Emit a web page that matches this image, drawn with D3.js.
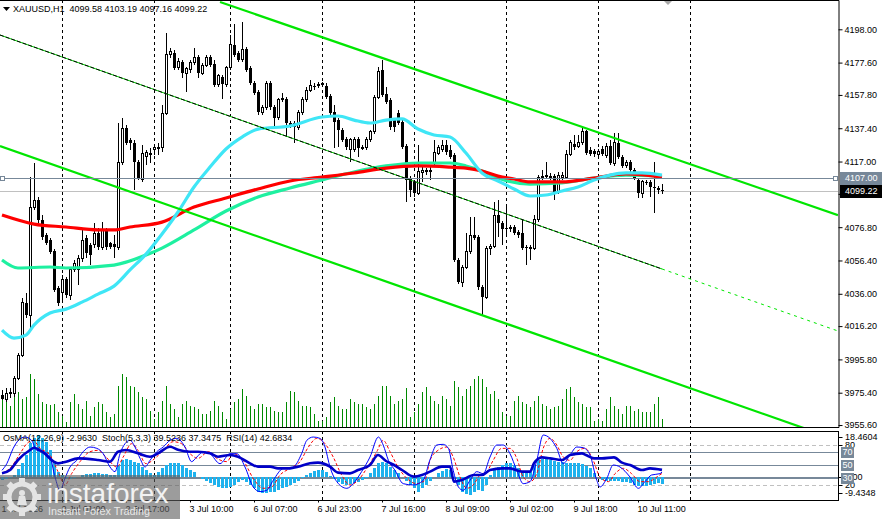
<!DOCTYPE html>
<html><head><meta charset="utf-8">
<script src="https://cdn.jsdelivr.net/npm/d3@7"></script>
<style>
html,body{margin:0;padding:0;background:#fff;}
svg{display:block;font-family:"Liberation Sans",Arial,sans-serif;}
</style></head><body>
<svg id="c" width="882" height="519"></svg>
<script>
// ---------------- DATA ----------------
const symbolTitle = "XAUUSD,H1";
const lastOHLC = ["4099.58","4103.19","4097.16","4099.22"];
const openP = [
3974.0,3971.5,3975.8,3975.2,3984.4,3998.5,4030.4,4023.0,4089.1,4093.4,
4081.2,4072.0,4068.9,4062.2,4039.5,4036.5,4045.0,4035.2,4050.6,4050.6,
4057.9,4070.2,4065.9,4065.9,4073.2,4064.6,4075.1,4067.1,4066.5,4064.6,
4116.7,4137.5,4130.2,4128.4,4116.7,4105.7,4119.8,4122.2,4124.1,4125.3,
4125.9,4146.7,4182.3,4183.5,4174.9,4178.0,4171.2,4173.1,4177.4,4181.0,
4171.2,4176.1,4181.0,4176.8,4163.9,4168.8,4163.9,4174.3,4188.4,4183.5,
4179.2,4185.9,4174.3,4165.1,4159.6,4147.3,4150.4,4165.1,4150.4,4143.7,
4154.7,4155.3,4140.6,4140.6,4138.1,4147.3,4154.7,4160.8,4163.3,4163.9,
4164.5,4163.3,4157.1,4147.3,4142.4,4136.3,4130.8,4124.1,4124.1,4130.8,
4125.3,4125.9,4130.8,4135.1,4156.5,4173.1,4158.4,4154.7,4142.4,4146.7,
4141.2,4126.5,4106.9,4104.5,4097.7,4110.0,4110.6,4111.2,4115.5,4122.2,
4124.1,4127.1,4124.1,4121.0,4056.7,4043.2,4052.4,4061.6,4072.0,4070.8,
4040.1,4034.0,4064.0,4065.2,4084.2,4079.3,4076.3,4076.3,4076.9,4073.8,
4073.2,4064.6,4064.6,4064.0,4081.2,4107.5,4108.1,4107.5,4108.1,4098.3,
4107.5,4107.5,4121.6,4127.7,4126.5,4128.4,4135.7,4124.1,4123.4,4121.6,
4124.7,4120.4,4126.5,4115.5,4128.4,4119.8,4114.3,4116.7,4111.8,4105.7,
4097.7,4104.5,4104.5,4101.4,4100.8,4099.58];
const highP = [
3977.0,3978.2,3978.2,3985.6,3999.7,4033.4,4036.5,4107.5,4116.1,4095.3,
4084.2,4073.2,4070.2,4063.4,4040.8,4047.5,4046.3,4051.8,4056.7,4059.7,
4075.1,4072.0,4067.1,4079.3,4076.3,4080.0,4076.3,4068.0,4072.0,4140.6,
4143.7,4139.4,4131.4,4130.2,4117.9,4127.1,4124.1,4125.3,4127.1,4128.4,
4151.6,4195.7,4186.5,4185.3,4180.4,4179.2,4174.9,4179.2,4186.5,4182.3,
4177.4,4182.3,4182.3,4179.2,4170.6,4170.0,4175.5,4194.5,4201.3,4184.7,
4202.5,4187.2,4175.5,4166.3,4160.8,4151.6,4166.3,4166.3,4151.6,4155.9,
4159.0,4156.5,4141.8,4141.8,4148.6,4156.5,4162.7,4167.0,4165.1,4165.7,
4165.7,4165.1,4158.4,4151.6,4143.7,4137.5,4132.0,4131.4,4132.0,4132.0,
4127.1,4132.0,4136.3,4157.7,4174.9,4179.2,4162.7,4155.9,4143.7,4148.6,
4142.4,4127.7,4108.1,4105.7,4127.1,4114.9,4113.0,4114.9,4130.2,4127.1,
4130.2,4130.2,4127.1,4122.2,4057.9,4053.6,4073.2,4083.0,4083.0,4072.0,
4041.4,4065.2,4066.5,4092.2,4093.4,4080.5,4089.1,4078.1,4078.1,4075.1,
4081.2,4065.9,4065.9,4084.2,4108.7,4111.8,4116.7,4110.0,4109.4,4110.6,
4110.6,4124.1,4130.2,4133.3,4133.3,4137.5,4136.3,4125.9,4124.7,4124.7,
4126.5,4128.4,4130.2,4134.5,4134.5,4121.0,4117.9,4117.9,4113.0,4106.9,
4105.7,4105.7,4105.7,4116.7,4102.0,4103.19];
const lowP = [
3970.9,3969.7,3972.1,3972.8,3983.2,3997.2,4021.2,4015.0,4087.3,4079.3,
4068.9,4065.9,4060.3,4037.1,4028.5,4032.2,4033.4,4032.2,4049.3,4041.4,
4055.4,4057.9,4053.6,4064.0,4062.8,4062.8,4062.8,4063.4,4057.9,4062.8,
4114.9,4127.1,4124.1,4099.6,4105.7,4104.5,4114.9,4116.1,4121.0,4121.0,
4122.8,4145.5,4180.4,4173.1,4173.1,4168.2,4159.6,4171.2,4176.1,4168.2,
4170.0,4174.9,4174.9,4162.7,4162.7,4155.3,4162.7,4173.1,4181.0,4178.0,
4178.0,4171.9,4163.9,4157.7,4145.5,4145.5,4148.6,4148.6,4138.1,4142.4,
4153.4,4132.0,4137.5,4128.4,4136.3,4145.5,4153.4,4159.6,4160.8,4162.0,
4162.7,4155.3,4145.5,4125.3,4125.9,4129.0,4124.1,4116.7,4122.8,4119.8,
4124.1,4124.1,4129.0,4133.9,4155.3,4156.5,4152.2,4136.3,4135.1,4139.4,
4124.7,4092.2,4095.3,4095.3,4096.5,4104.5,4108.7,4105.7,4114.3,4121.0,
4122.8,4121.0,4118.5,4055.4,4042.0,4040.1,4051.2,4060.3,4068.9,4038.3,
4023.0,4032.8,4059.7,4064.0,4070.8,4065.9,4070.8,4073.8,4072.0,4070.2,
4062.8,4053.6,4056.7,4062.8,4080.0,4105.7,4106.9,4105.7,4093.4,4097.1,
4105.7,4106.9,4120.4,4124.1,4125.3,4127.1,4121.0,4120.4,4119.8,4120.4,
4120.4,4119.2,4114.9,4114.3,4118.5,4113.0,4113.0,4110.6,4105.7,4094.7,
4094.7,4102.6,4095.3,4085.4,4097.1,4097.16];
const closeP = [
3971.5,3975.2,3974.6,3984.4,3998.5,4030.4,4023.0,4089.1,4093.4,4081.2,
4070.8,4067.1,4061.6,4038.3,4030.4,4045.0,4035.2,4050.6,4054.8,4057.9,
4068.9,4061.0,4059.7,4073.2,4064.6,4075.1,4064.6,4064.6,4064.6,4116.7,
4137.5,4128.4,4128.4,4116.7,4106.9,4122.2,4122.8,4121.0,4125.3,4125.9,
4146.7,4182.3,4184.1,4174.3,4178.0,4171.2,4173.7,4177.4,4181.0,4171.2,
4176.1,4181.0,4176.1,4163.9,4169.4,4164.5,4174.3,4188.4,4182.3,4179.2,
4185.9,4173.1,4165.1,4159.0,4147.3,4150.4,4165.1,4150.4,4143.7,4154.7,
4155.9,4140.6,4139.4,4138.1,4147.3,4154.7,4160.8,4163.3,4162.7,4163.9,
4164.6,4156.5,4146.7,4141.2,4136.3,4130.2,4125.9,4130.2,4130.2,4125.3,
4125.9,4130.8,4135.1,4156.5,4171.9,4157.7,4153.4,4138.1,4138.1,4140.6,
4125.9,4105.7,4099.6,4097.7,4110.6,4111.8,4111.8,4111.8,4122.8,4125.9,
4127.1,4122.8,4119.8,4056.7,4043.2,4052.4,4061.6,4072.0,4070.2,4040.1,
4034.0,4064.0,4065.2,4084.2,4079.3,4075.7,4076.2,4076.3,4073.2,4072.0,
4064.0,4064.0,4064.6,4081.2,4107.5,4108.1,4108.2,4108.1,4098.3,4108.7,
4108.7,4121.6,4128.4,4125.9,4128.4,4135.7,4122.2,4121.6,4121.6,4123.4,
4121.6,4126.5,4116.1,4128.4,4119.8,4114.3,4116.7,4111.8,4106.9,4097.7,
4104.5,4103.9,4101.4,4100.8,4099.6,4099.22];
const volumeTicks = [
2800,3100,2100,3100,3500,2800,3000,5300,4800,3300,2500,2300,2200,2300,1500,1100,500,2500,3300,2300,
1800,2600,1100,2000,2500,2300,1500,1000,1300,4100,5300,5000,4100,4000,3500,3000,2800,1600,800,1500,
2600,4100,2300,1800,1000,2300,2600,2100,2000,1800,1300,1300,1600,2600,2100,1500,800,1800,2500,2800,
3800,3100,2100,1800,2300,2300,2000,2000,1600,1500,1500,2500,3600,3500,2600,2100,2100,2000,1300,600,
600,1000,2500,3000,2100,1800,1800,2800,2500,2300,2300,2000,1800,2300,3100,4100,4100,3100,2300,2600,
2800,3900,1000,1500,2300,3500,4000,3100,2600,2300,3100,2800,2100,4600,4000,3100,3800,4100,4800,5100,
4800,4000,3300,3600,2800,1500,1100,1100,2600,3100,2500,2300,2000,2600,3100,2300,2100,1800,2000,2100,
2800,3800,4000,3000,2500,2300,2000,2000,600,800,600,1800,3000,2100,1800,1300,2100,2100,1600,1800,
1500,1500,1500,2300,3000,800];
// moving averages (bar index, price)
const maFastBars = [0,3,6,8,12,16,20,24,28,32,36,40,44,48,52,56,60,64,72,80,84,88,92,96,100,104,108,112,116,120,124,128,132,136,140,144,148,152,156,160,165];
const maFastVals = [4013.8,4008.9,4010.7,4016.8,4024.2,4026.6,4030.9,4035.8,4040.7,4050.6,4060.3,4072.6,4086.1,4101.4,4113.6,4124.7,4132.0,4136.9,4138.8,4144.3,4144.9,4142.4,4140.6,4142.4,4143.1,4136.9,4133.3,4132.0,4122.2,4110.0,4105.1,4100.2,4095.9,4096.5,4099.0,4101.4,4105.7,4108.7,4110.0,4110.0,4108.7];
const maMidBars = [0,4,12,16,28,36,40,48,56,64,72,80,88,96,104,112,116,120,124,132,140,148,156,165];
const maMidVals = [4056.7,4051.8,4052.4,4051.8,4053.6,4059.7,4064.0,4075.1,4086.7,4095.3,4100.8,4105.7,4110.6,4114.3,4116.1,4116.1,4114.3,4111.2,4106.9,4103.2,4103.9,4106.9,4108.7,4108.1];
const maSlowBars = [0,8,16,24,28,32,40,48,56,64,72,80,88,96,104,112,116,120,124,128,132,140,148,156,165];
const maSlowVals = [4084.2,4078.7,4076.9,4075.1,4075.1,4076.9,4079.9,4089.1,4094.7,4100.2,4105.1,4107.5,4110.0,4113.0,4114.3,4113.6,4113.0,4111.2,4108.1,4106.3,4104.5,4104.5,4106.9,4109.4,4107.5];
// trend channel (bar index, price)
const chanUpperBars = [54.5,209], chanUpperPrices = [4214.7,4084.2];
const chanMidBars = [-0.5,165], chanMidPrices = [4194.5,4051.2];
const chanMidExtBars = [165,209], chanMidExtPrices = [4051.2,4013.2];
const chanLowerBars = [-0.5,209], chanLowerPrices = [4126.5,3946.4];
const hLinePrice = 4107.00;
const bidPrice = 4099.22;
const priceTicks = [4198.00,4177.60,4157.80,4137.40,4117.00,4097.20,4076.80,4056.40,4036.00,4016.20,3995.80,3975.40,3955.60];
const daySepBars = [15,38,57,80,103,126,149,172];
const timeLabelBars = [-1,15,31,47,63,79,95,111,127,143,159];
const timeLabels = ["1 Jul 2026","2 Jul 01:00","2 Jul 17:00","3 Jul 10:00","6 Jul 07:00","6 Jul 23:00","7 Jul 16:00","8 Jul 09:00","9 Jul 02:00","9 Jul 18:00","10 Jul 11:00"];
// indicator window
const osmaVals = [
-1.5,-1,-0.5,0.5,3,
5.4,8.8,13.5,15.5,16.9,15.5,14,10.6,6.5,2.0,
0.5,-0.5,-1,-0.5,0,0.5,1,1.2,1.5,1.5,1.2,1,0.8,0.5,
4.7,6.7,7,6.7,6,5.4,4,2.7,1.6,0.7,
2,3.4,4.7,5.7,5.7,5.4,4.7,3.4,2.7,2.0,
-0.3,-1.1,-1.6,-2.4,-3.4,-4,-4.7,-4.7,-4,-3.4,-2,-1.3,-2,
-3.4,-4.7,-6.1,-6.7,-6.5,-6.1,-6.1,-5.4,-4.7,-4,-3.4,-2.7,-1.6,-0.7,
0.7,1.6,2.4,2.7,2.7,2.0,
0.3,-1.1,-2,-3,-3.4,-3,-2.7,-2,-1.3,-0.7,
1.3,3.4,5.4,6,5.4,4,2.7,1.3,
-0.3,-1.6,-3.4,-4.7,-6.1,-4.7,-3.4,-1.6,
0,1.3,2.4,3,2.7,-0.7,-3.4,-6.1,-7.0,-7.4,-6.1,-5.4,-5.7,-3.4,
0.7,3,4,4.7,5.4,5.7,4.7,3.4,2.4,2.4,2.0,4.7,6.7,7,7,6.7,6.5,6,6,5.7,5.7,5.4,5.4,5.1,4.3,3.4,1.6,
-0.3,-1.3,-1.6,-1.6,-1.6,-1.6,-2,-2,-2.7,-3.4,-3.8,-3.8,-3.8,-3.4,-3,-2.7,-2.963];
const osmaMax = 18.4604, osmaMin = -9.4348;
const rsiBars = [0,2,4,7,8,10,14,16,19,24,27,29,31,34,37,39,42,44,47,49,52,54,57,59,62,64,67,69,72,74,77,79,82,84,87,89,92,94,96,98,100,103,105,107,110,112,113,115,118,120,122,125,127,130,132,133,135,137,140,142,145,146,148,150,153,155,157,160,162,165];
const rsiVals = [37.5,42.5,57.5,72.5,76,70,52.5,55,60,57.5,55,70,72.5,67.5,62.5,67.5,77.5,73,70,70,67.5,62.5,65,62.5,52.5,47.5,47.5,45,45,47.5,52.5,53.5,47.5,38.5,37.5,42.5,50,65,56,50,42.5,32.5,35,40,47.5,47.5,25,27.5,35,35,42.5,45,45,40,40,52.5,61.5,60,57.5,65,67.5,65,60,60,61.5,53.5,50,42.5,45,42.68];
const stochBars = [0,1.2,2.8,4.1,5.75,7.4,8.7,10.3,12,13.25,14.5,15.75,17,18.7,20.3,22,23.7,25.3,27,28.25,29.5,30.75,32,33.25,34.5,35.75,37,38.7,40.3,42,43.7,45.75,47.4,48.7,50.3,52,54.5,57,58.7,60.75,62.8,64.5,66.2,67.8,70.3,72.8,74.9,76.2,77.8,79.5,80.75,82,83.7,86.2,87.8,89.9,92,94.1,95.3,96.6,98.25,100.3,102.8,105.3,107,108.7,110.3,111.6,112.8,114.1,115.3,117,118.7,120.3,122,123.7,125.3,127,128.7,130.3,132,133.7,135.3,137,138.7,140.3,142,143.7,145.3,147,148.7,149.5,151.2,152.8,154.5,157,159.1,160.75,162.4,164.5,165];
const stochVals = [42,52,75,87,92,87,72,70,62,32,12,30,47,57,70,77,75,67,47,40,67,82,87,77,60,47,57,70,77,87,90,77,55,62,70,67,52,67,67,47,17,10,12,27,45,47,67,87,92,90,77,47,25,15,22,40,62,92,80,57,42,22,20,27,58,80,81,75,42,17,12,27,40,37,62,80,80,67,42,22,25,57,95,90,75,52,65,77,76,65,27,17,30,50,47,32,15,25,35,37,39.52];
const signalBars = [0,2,4.5,6.2,7.8,9.5,12,14,15.75,17.4,19.5,22,24,26,28.7,30.3,32.4,34,36,38.25,40.3,42.8,44.9,47,49,51.6,53.7,56.2,57.8,60.3,62.8,65.3,67.4,69.5,72,74.5,76.6,78.7,80.75,82.8,84.9,87,89,91.2,93.7,95.3,97,99,101.2,103.7,105.75,107,109,111.2,112.8,114.5,116.2,117.8,119.5,121.2,122.8,124.9,127,128.7,130.3,132,133.7,135.3,137,138.7,140.3,142,143.7,145.75,147.8,149.5,151.6,153.25,155.3,157.4,159.5,161.6,163.7,165];
const signalVals = [38,45,67,82,87,75,65,40,20,37,55,70,72,62,47,62,82,72,52,60,72,85,82,67,60,70,60,55,67,57,30,15,17,35,45,55,77,90,82,62,35,20,27,45,70,87,70,47,30,22,27,57,72,77,62,32,15,20,35,40,57,75,75,60,32,25,37,75,90,80,62,57,70,75,57,32,25,37,45,37,25,25,32,37.35];
const oscLevelsSolid = [70,50,30];
const oscLevelsDash = [80,20];
const indLabel = "OsMA(12,26,9) -2.9630  Stoch(5,3,3) 39.5236 37.3475  RSI(14) 42.6834";

// ---------------- LAYOUT ----------------
const svg = d3.select("#c");
const plotW = 838, mainBot = 427, indTop = 431, indBot = 500;
const FONT = "9px";
const x = d3.scaleLinear().domain([-0.5, 209]).range([0, plotW]);
const y = d3.scaleLinear().domain([3954.4, 4215.95]).range([mainBot, 0]);
const yVol = d3.scaleLinear().domain([0, 10000]).range([mainBot, mainBot - 100]);
const yOsc = d3.scaleLinear().domain([0, 100]).range([498.3, 431.7]);
const yOsma = d3.scaleLinear().domain([osmaMin, osmaMax]).range([indBot, indTop]);
const N = openP.length;
const idx = d3.range(N);

svg.append("rect").attr("width", 882).attr("height", 519).attr("fill", "#fff");
const defs = svg.append("defs");
defs.append("clipPath").attr("id", "clipMain").append("rect").attr("x", 0).attr("y", 0).attr("width", plotW).attr("height", mainBot);
defs.append("clipPath").attr("id", "clipInd").append("rect").attr("x", 0).attr("y", indTop).attr("width", plotW).attr("height", indBot - indTop);

const main = svg.append("g").attr("clip-path", "url(#clipMain)");
// day separators
main.selectAll("line.sep").data(daySepBars).join("line")
  .attr("x1", d => Math.round(x(d)) + 0.5).attr("x2", d => Math.round(x(d)) + 0.5)
  .attr("y1", 0).attr("y2", mainBot).attr("stroke", "#000").attr("stroke-dasharray", "3,3");
// volumes
main.selectAll("rect.vol").data(idx).join("rect")
  .attr("x", i => Math.round(x(i))).attr("width", 1)
  .attr("y", i => yVol(volumeTicks[i])).attr("height", i => mainBot - yVol(volumeTicks[i]))
  .attr("fill", "#008a00").attr("shape-rendering", "crispEdges");
// bid line
main.append("line").attr("x1", 0).attr("x2", plotW)
  .attr("y1", Math.round(y(bidPrice)) + 0.5).attr("y2", Math.round(y(bidPrice)) + 0.5)
  .attr("stroke", "#c0c0c0");
// candles
const cg = main.append("g").attr("shape-rendering", "crispEdges");
cg.selectAll("line.wick").data(idx).join("line")
  .attr("x1", i => Math.round(x(i)) + 0.5).attr("x2", i => Math.round(x(i)) + 0.5)
  .attr("y1", i => y(highP[i])).attr("y2", i => y(lowP[i])).attr("stroke", "#000");
cg.selectAll("rect.body").data(idx).join("rect")
  .attr("x", i => closeP[i] >= openP[i] ? Math.round(x(i)) - 0.5 : Math.round(x(i)) - 1)
  .attr("width", i => closeP[i] >= openP[i] ? 2 : 3)
  .attr("y", i => y(Math.max(openP[i], closeP[i])))
  .attr("height", i => Math.max(1, Math.abs(y(openP[i]) - y(closeP[i]))))
  .attr("fill", i => closeP[i] >= openP[i] ? "#fff" : "#000")
  .attr("stroke", i => closeP[i] >= openP[i] ? "#000" : "none");
// moving averages
const maLine = d3.line().x(d => x(d[0])).y(d => y(d[1])).curve(d3.curveMonotoneX);
function drawMA(bars, vals, color, w) {
  main.append("path").attr("d", maLine(bars.map((b, k) => [b, vals[k]])))
    .attr("fill", "none").attr("stroke", color).attr("stroke-width", w).attr("stroke-linejoin", "round");
}
drawMA(maMidBars, maMidVals, "#1ef0a0", 3.2);
drawMA(maSlowBars, maSlowVals, "#ff0000", 3.2);
drawMA(maFastBars, maFastVals, "#3fe6f6", 3.2);
// channel
const segLine = (bars, prices) => d3.line()(bars.map((b, k) => [x(b), y(prices[k])]));
main.append("path").attr("d", segLine(chanUpperBars, chanUpperPrices)).attr("stroke", "#00e600").attr("stroke-width", 2.2).attr("fill", "none");
main.append("path").attr("d", segLine(chanLowerBars, chanLowerPrices)).attr("stroke", "#00e600").attr("stroke-width", 2.2).attr("fill", "none");
main.append("path").attr("d", segLine(chanMidBars, chanMidPrices)).attr("stroke", "#00d000").attr("stroke-width", 1).attr("fill", "none");
main.append("path").attr("d", segLine(chanMidBars, chanMidPrices)).attr("stroke", "#000").attr("stroke-width", 1).attr("stroke-dasharray", "4,2").attr("fill", "none");
main.append("path").attr("d", segLine(chanMidExtBars, chanMidExtPrices)).attr("stroke", "#00e600").attr("stroke-width", 1).attr("stroke-dasharray", "3,4").attr("fill", "none");
// horizontal line 4107
const hy = Math.round(y(hLinePrice)) + 0.5;
main.append("line").attr("x1", 0).attr("x2", plotW).attr("y1", hy).attr("y2", hy).attr("stroke", "#778899");
[1, 834].forEach(px => main.append("rect").attr("x", px - 0.5).attr("y", hy - 2).attr("width", 4).attr("height", 4)
  .attr("fill", "#fff").attr("stroke", "#778899"));
// chart shift marker
svg.append("path").attr("d", "M663,0 L673,0 L668,5 Z").attr("fill", "#a8a8a8");

// main frame
svg.append("line").attr("x1", 0).attr("x2", plotW + 1).attr("y1", 0.5).attr("y2", 0.5).attr("stroke", "#000");
svg.append("line").attr("x1", 0).attr("x2", plotW + 1).attr("y1", mainBot + 0.5).attr("y2", mainBot + 0.5).attr("stroke", "#000");

// right price axis
const axR = d3.axisRight(y).tickValues(priceTicks).tickSize(4).tickSizeOuter(0).tickFormat(d => d.toFixed(2));
const gAx = svg.append("g").attr("transform", `translate(${plotW + 0.5},0)`).call(axR);
gAx.selectAll("text").attr("font-family", "Liberation Sans, Arial, sans-serif").attr("font-size", FONT).attr("fill", "#000").attr("x", 6);
gAx.select(".domain").attr("stroke", "#000");
// price label boxes
function priceBox(p, bg, fg) {
  const cy = y(p);
  svg.append("rect").attr("x", 840).attr("y", Math.round(cy) - 6).attr("width", 42).attr("height", 13).attr("fill", bg);
  svg.append("text").attr("x", 845).attr("y", cy).attr("dy", "0.35em").attr("font-size", FONT).attr("fill", fg).text(p.toFixed(2));
}
priceBox(hLinePrice, "#778899", "#fff");
priceBox(bidPrice, "#000", "#fff");

// header
svg.append("path").attr("d", "M3,7 L10,7 L6.5,11 Z").attr("fill", "#000");
svg.append("text").attr("x", 13).attr("y", 12).attr("font-size", FONT).attr("fill", "#000")
  .attr("xml:space", "preserve").text(symbolTitle + "  " + lastOHLC.join(" "));

// ---------------- INDICATOR WINDOW ----------------
const ind = svg.append("g").attr("clip-path", "url(#clipInd)");
ind.selectAll("line.sep").data(daySepBars).join("line")
  .attr("x1", d => Math.round(x(d)) + 0.5).attr("x2", d => Math.round(x(d)) + 0.5)
  .attr("y1", indTop).attr("y2", indBot).attr("stroke", "#000").attr("stroke-dasharray", "3,3");
ind.selectAll("line.ld").data(oscLevelsDash).join("line")
  .attr("x1", 0).attr("x2", plotW).attr("y1", d => Math.round(yOsc(d)) + 0.5).attr("y2", d => Math.round(yOsc(d)) + 0.5)
  .attr("stroke", "#c0c0c0").attr("stroke-dasharray", "4,3");
ind.selectAll("line.ls").data(oscLevelsSolid).join("line")
  .attr("x1", 0).attr("x2", plotW).attr("y1", d => Math.round(yOsc(d)) + 0.5).attr("y2", d => Math.round(yOsc(d)) + 0.5)
  .attr("stroke", "#778899");
ind.append("line").attr("x1", 0).attr("x2", plotW).attr("y1", Math.round(yOsma(0)) + 0.5).attr("y2", Math.round(yOsma(0)) + 0.5).attr("stroke", "#778899");
ind.selectAll("rect.osma").data(idx).join("rect")
  .attr("x", i => Math.round(x(i)) - 1).attr("width", 3)
  .attr("y", i => Math.min(yOsma(0), yOsma(osmaVals[i])))
  .attr("height", i => Math.abs(yOsma(osmaVals[i]) - yOsma(0)))
  .attr("fill", "#1eb2ee").attr("shape-rendering", "crispEdges");
const oscLine = d3.line().x(d => x(d[0])).y(d => yOsc(d[1])).curve(d3.curveMonotoneX);
ind.append("path").attr("d", oscLine(signalBars.map((b, k) => [b, signalVals[k]])))
  .attr("fill", "none").attr("stroke", "#ff0000").attr("stroke-width", 1).attr("stroke-dasharray", "3,2");
ind.append("path").attr("d", oscLine(stochBars.map((b, k) => [b, stochVals[k]])))
  .attr("fill", "none").attr("stroke", "#0000ff").attr("stroke-width", 1);
ind.append("path").attr("d", oscLine(rsiBars.map((b, k) => [b, rsiVals[k]])))
  .attr("fill", "none").attr("stroke", "#0000c8").attr("stroke-width", 2.6);
// indicator frame
svg.append("rect").attr("x", -1).attr("y", indTop + 0.5).attr("width", plotW + 1.5).attr("height", indBot - indTop)
  .attr("fill", "none").attr("stroke", "#000");
svg.append("text").attr("x", 3).attr("y", 441).attr("font-size", FONT).attr("fill", "#000")
  .attr("xml:space", "preserve").text(indLabel);
// indicator right scale
const indTicks = [
  {v: indTop + 5.5, t: osmaMax.toFixed(4)},
  {v: yOsc(80), t: "80"},
  {v: yOsma(0), t: "0.00"},
  {v: yOsc(20), t: "20"},
  {v: indBot - 7.5, t: osmaMin.toFixed(4)}
];
svg.selectAll("line.it").data(indTicks).join("line")
  .attr("x1", plotW + 0.5).attr("x2", plotW + 4.5).attr("y1", d => Math.round(d.v) + 0.5).attr("y2", d => Math.round(d.v) + 0.5).attr("stroke", "#000");
svg.selectAll("text.it").data(indTicks).join("text")
  .attr("x", 845).attr("y", d => d.v).attr("dy", "0.35em").attr("font-size", FONT).attr("fill", "#000").text(d => d.t);
oscLevelsSolid.forEach(v => {
  const cy = yOsc(v);
  svg.append("rect").attr("x", 841).attr("y", Math.round(cy) - 5).attr("width", 13).attr("height", 11).attr("fill", "#778899");
  svg.append("text").attr("x", 842.5).attr("y", cy).attr("dy", "0.35em").attr("font-size", FONT).attr("fill", "#fff").text(String(v));
});

// time axis
const axB = d3.axisBottom(x).tickValues(timeLabelBars).tickSize(2).tickSizeOuter(0)
  .tickFormat((d, k) => timeLabels[k]);
const gB = svg.append("g").attr("transform", `translate(0,${indBot + 0.5})`).call(axB);
gB.select(".domain").remove();
gB.selectAll("text").attr("font-family", "Liberation Sans, Arial, sans-serif").attr("font-size", FONT)
  .attr("fill", "#000").attr("text-anchor", "start").attr("x", (d, k) => k === 0 ? 3 : -1).attr("y", 5);

// ---------------- WATERMARK ----------------
const wm = svg.append("g");
wm.append("rect").attr("x", 0).attr("y", 475).attr("width", 180).attr("height", 44).attr("fill", "rgba(95,95,95,0.62)");
const gear = wm.append("g").attr("transform", "translate(22,497)");
d3.range(8).forEach(k => gear.append("rect").attr("x", -3).attr("y", -19).attr("width", 6).attr("height", 7)
  .attr("fill", "#e4e4e4").attr("transform", `rotate(${k * 45})`));
gear.append("circle").attr("r", 13).attr("fill", "none").attr("stroke", "#e4e4e4").attr("stroke-width", 5);
gear.append("circle").attr("cy", -4).attr("r", 3).attr("fill", "#e4e4e4");
gear.append("path").attr("d", "M-5,8 L-3,-1 L3,-1 L5,8 Z").attr("fill", "#e4e4e4");
wm.append("text").attr("x", 47).attr("y", 503).attr("font-size", "28px").attr("fill", "#f2f2f2").text("instaforex");
wm.append("text").attr("x", 48).attr("y", 515).attr("font-size", "10.8px").attr("fill", "#e8e8e8").text("Instant Forex Trading");
</script>
</body></html>
